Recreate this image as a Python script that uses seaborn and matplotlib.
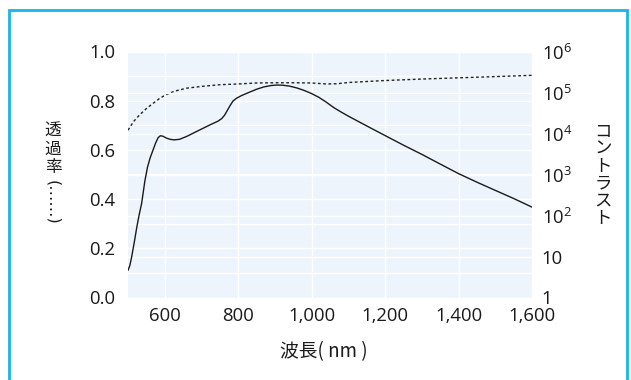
import matplotlib
matplotlib.use("Agg")
import matplotlib.pyplot as plt
from matplotlib.patches import Rectangle
from matplotlib.ticker import FixedLocator, MultipleLocator, NullLocator
import pandas as pd
import seaborn as sns

# Transmittance (left axis, dashed)
trans_wavelength = [500, 515, 532, 550, 569, 585, 598, 615, 630, 660, 700, 750,
                    800, 850, 900, 950, 1000, 1040, 1070, 1100, 1200, 1300,
                    1400, 1500, 1600]
transmittance = [0.680, 0.715, 0.743, 0.768, 0.790, 0.808, 0.820, 0.832, 0.840,
                 0.851, 0.858, 0.865, 0.868, 0.872, 0.873, 0.873, 0.872, 0.868,
                 0.869, 0.874, 0.882, 0.888, 0.893, 0.898, 0.903]

# Contrast ratio (right axis, log scale, solid)
contrast_wavelength = [500, 505, 510, 517, 524, 530, 537, 546, 553, 560, 567,
                       575, 582, 588, 595, 605, 615, 625, 640, 660, 685, 705,
                       725, 745, 755, 763, 770, 778, 786, 795, 810, 830, 850,
                       870, 890, 905, 920, 940, 960, 980, 1000, 1020, 1040,
                       1060, 1080, 1100, 1150, 1200, 1250, 1300, 1350, 1400,
                       1450, 1500, 1550, 1600]
contrast = [4.6, 6.0, 9.8, 22, 52, 100, 195, 700, 1500, 2500, 3700,
            5800, 7900, 8800, 8600, 7700, 7200, 7000, 7200, 8500, 11000, 13500,
            16500, 20000, 23000, 28000, 36000, 48000, 62000, 72000, 85000,
            101000, 120000, 137000, 148000, 152000, 151000, 143000, 129000,
            112000, 94000, 76000, 58000, 43000, 33500, 26500, 15300, 8900,
            5200, 3100, 1800, 1050, 650, 410, 260, 160]

left_ticks = [0.0, 0.2, 0.4, 0.6, 0.8, 1.0]
left_tick_labels = ["0.0", "0.2", "0.4", "0.6", "0.8", "1.0"]
right_ticks = [1, 10, 100, 1000, 10000, 100000, 1000000]
right_tick_labels = ["1", "10", r"$\mathregular{10^{2}}$", r"$\mathregular{10^{3}}$",
                     r"$\mathregular{10^{4}}$", r"$\mathregular{10^{5}}$",
                     r"$\mathregular{10^{6}}$"]
x_ticks = [600, 800, 1000, 1200, 1400, 1600]
x_tick_labels = ["600", "800", "1,000", "1,200", "1,400", "1,600"]

x_label = "波長( nm )"
left_label = "透過率"
right_label = "コントラスト"

sns.set_theme(style="white")
plt.rcParams["font.family"] = ["Open Sans", "Noto Sans CJK JP", "DejaVu Sans"]
plt.rcParams["mathtext.fontset"] = "custom"
plt.rcParams["mathtext.rm"] = "Open Sans"
plt.rcParams["mathtext.it"] = "Open Sans"
plt.rcParams["mathtext.bf"] = "Open Sans"

text_color = "#1a1a1a"
panel_color = "#edf4fb"
W, H = 631, 380

fig = plt.figure(figsize=(W / 100, H / 100), dpi=100)
fig.patch.set_facecolor("white")

# Cyan frame around the figure, open at the bottom edge
fig.patches.append(Rectangle((8.5 / W, -0.2), (626.5 - 8.5) / W, 1.2 - 9.5 / H,
                             transform=fig.transFigure, fill=False,
                             edgecolor="#1ab4ec", linewidth=2.0, zorder=0))

left, right, top, bottom = 128, 532, 51.5, 297.5
ax = fig.add_axes([left / W, 1 - bottom / H, (right - left) / W, (bottom - top) / H])
ax.set_facecolor(panel_color)
ax2 = ax.twinx()

df_t = pd.DataFrame({"wavelength": trans_wavelength, "transmittance": transmittance})
df_c = pd.DataFrame({"wavelength": contrast_wavelength, "contrast": contrast})

sns.lineplot(data=df_t, x="wavelength", y="transmittance", ax=ax,
             color="#222222", linewidth=1.0, linestyle=(0, (2.0, 1.8)), zorder=3)
sns.lineplot(data=df_c, x="wavelength", y="contrast", ax=ax2,
             color="#1a1a1a", linewidth=1.0, zorder=3)

ax.set_xlim(500, 1600)
ax.set_ylim(0, 1)
ax2.set_yscale("log")
ax2.set_ylim(1, 1e6)

# Grids: 0.1 steps on the left scale, decades on the right scale, 200 nm in x
ax.xaxis.set_major_locator(FixedLocator(x_ticks))
ax.set_xticklabels(x_tick_labels)
ax.yaxis.set_major_locator(FixedLocator(left_ticks))
ax.set_yticklabels(left_tick_labels)
ax.yaxis.set_minor_locator(MultipleLocator(0.1))
ax.set_axisbelow(True)
ax.grid(True, which="major", axis="both", color="white", linewidth=1.0)
ax.grid(True, which="minor", axis="y", color="white", linewidth=1.0)

ax2.yaxis.set_major_locator(FixedLocator(right_ticks))
ax2.yaxis.set_minor_locator(NullLocator())
ax2.set_yticklabels(right_tick_labels)
ax2.set_axisbelow(True)
ax2.grid(True, which="major", axis="y", color="white", linewidth=1.0)

for a in (ax, ax2):
    for s in a.spines.values():
        s.set_visible(False)
    a.tick_params(which="both", length=0, labelsize=13.3, colors=text_color)
    a.set_xlabel("")
    a.set_ylabel("")
ax.tick_params(axis="y", pad=9, which="both")
ax.tick_params(axis="x", pad=7)
ax2.tick_params(axis="y", pad=7)

fig.text(324 / W, 1 - 352 / H, x_label, ha="center", va="center",
         fontsize=13.5, color=text_color,
         family=["Noto Sans CJK JP", "Open Sans"])

# Vertical labels with upright characters
fig.text(53 / W, 1 - 149 / H, "\n".join(left_label), ha="center", va="center",
         fontsize=12, color=text_color, linespacing=1.12,
         family=["Noto Sans CJK JP"])
fig.text(53 / W, 1 - 202 / H, "(……)", ha="center", va="center", rotation=-90,
         fontsize=11.5, color=text_color, family=["DejaVu Sans"])
fig.text(603 / W, 1 - 175 / H, "\n".join(right_label), ha="center", va="center",
         fontsize=12.5, color=text_color, linespacing=0.95,
         family=["Noto Sans CJK JP"])

fig.savefig("out.png", dpi=100, facecolor="white")
